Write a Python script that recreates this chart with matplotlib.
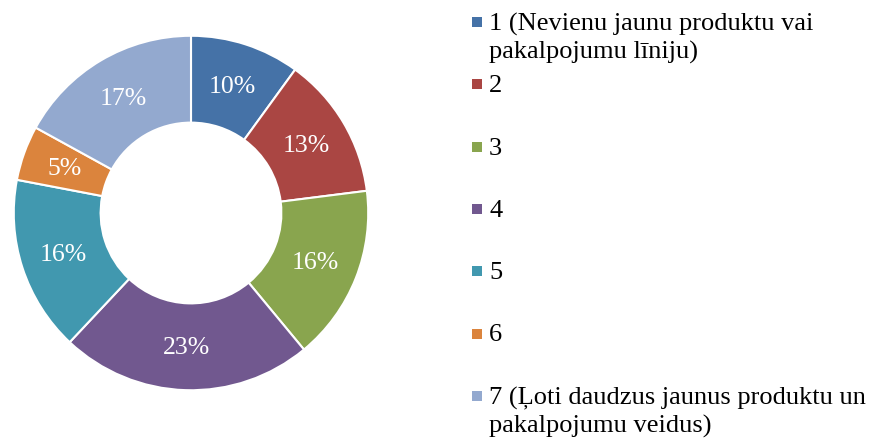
import matplotlib
matplotlib.use('Agg')
import matplotlib.pyplot as plt
from matplotlib.patches import Rectangle

plt.rcParams['font.family'] = ['Liberation Serif', 'DejaVu Serif']

labels = ['1 (Nevienu jaunu produktu vai\npakalpojumu līniju)', '2', '3', '4', '5', '6',
          '7 (Ļoti daudzus jaunus produktu un\npakalpojumu veidus)']
values = [10, 13, 16, 23, 16, 5, 17]
colors = ['#4572A7', '#AA4643', '#89A54E', '#71588F', '#4198AF', '#DB843D', '#93A9CF']

W, H = 871, 439
fig = plt.figure(figsize=(W / 100, H / 100), dpi=100)

# donut: centre (191, 214) px from top, radius 179 px
cx, cy, r = 191, 214, 179
ax = fig.add_axes([(cx - r) / W, (H - cy - r) / H, 2 * r / W, 2 * r / H])
wedges, texts, autotexts = ax.pie(
    values, colors=colors, startangle=90, counterclock=False, radius=1,
    autopct='%d%%', pctdistance=0.755,
    wedgeprops=dict(width=0.49, edgecolor='white', linewidth=1.5),
    textprops=dict(color='white', fontsize=18.5))
ax.set_xlim(-1.01, 1.01)
ax.set_ylim(-1.01, 1.01)
ax.axis('off')

# legend drawn by hand to match spacing
y0, step = 23, 62.3
for i, (lab, col) in enumerate(zip(labels, colors)):
    yc = y0 + i * step
    fig.patches.append(Rectangle((472 / W, 1 - (yc + 5) / H), 10 / W, 10 / H,
                                 transform=fig.transFigure, facecolor=col,
                                 edgecolor='none'))
    fig.text(489 / W, 1 - (yc - 10) / H, lab, fontsize=19, va='top', ha='left',
             linespacing=1.3, color='black')

fig.savefig('out.png', dpi=100)
